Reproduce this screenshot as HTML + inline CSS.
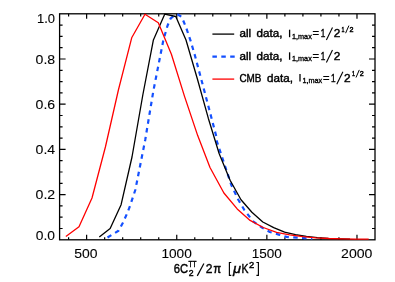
<!DOCTYPE html>
<html><head><meta charset="utf-8"><title>plot</title>
<style>
html,body{margin:0;padding:0;background:#fff;}
body{width:395px;height:282px;overflow:hidden;}
svg{display:block;will-change:transform;opacity:0.999;font-family:"Liberation Sans",sans-serif;}
text{fill:#000;stroke:#000;stroke-width:0.4px;}
.tl{stroke-width:0.1px;}
</style></head><body>
<svg width="395" height="282" viewBox="0 0 395 282">
<rect width="395" height="282" fill="#fff"/>
<rect x="59.6" y="13.8" width="315.4" height="226.0" fill="none" stroke="#000" stroke-width="1.3"/>
<path d="M68.61 239.8v-2.6M68.61 13.8v2.6M86.63 239.8v-5.0M86.63 13.8v5.0M104.66 239.8v-2.6M104.66 13.8v2.6M122.68 239.8v-2.6M122.68 13.8v2.6M140.70 239.8v-2.6M140.70 13.8v2.6M158.73 239.8v-2.6M158.73 13.8v2.6M176.75 239.8v-5.0M176.75 13.8v5.0M194.77 239.8v-2.6M194.77 13.8v2.6M212.79 239.8v-2.6M212.79 13.8v2.6M230.82 239.8v-2.6M230.82 13.8v2.6M248.84 239.8v-2.6M248.84 13.8v2.6M266.86 239.8v-5.0M266.86 13.8v5.0M284.89 239.8v-2.6M284.89 13.8v2.6M302.91 239.8v-2.6M302.91 13.8v2.6M320.93 239.8v-2.6M320.93 13.8v2.6M338.95 239.8v-2.6M338.95 13.8v2.6M356.98 239.8v-5.0M356.98 13.8v5.0M59.6 228.50h3.0M375.0 228.50h-3.0M59.6 217.20h3.0M375.0 217.20h-3.0M59.6 205.90h3.0M375.0 205.90h-3.0M59.6 194.60h6.0M375.0 194.60h-6.0M59.6 183.30h3.0M375.0 183.30h-3.0M59.6 172.00h3.0M375.0 172.00h-3.0M59.6 160.70h3.0M375.0 160.70h-3.0M59.6 149.40h6.0M375.0 149.40h-6.0M59.6 138.10h3.0M375.0 138.10h-3.0M59.6 126.80h3.0M375.0 126.80h-3.0M59.6 115.50h3.0M375.0 115.50h-3.0M59.6 104.20h6.0M375.0 104.20h-6.0M59.6 92.90h3.0M375.0 92.90h-3.0M59.6 81.60h3.0M375.0 81.60h-3.0M59.6 70.30h3.0M375.0 70.30h-3.0M59.6 59.00h6.0M375.0 59.00h-6.0M59.6 47.70h3.0M375.0 47.70h-3.0M59.6 36.40h3.0M375.0 36.40h-3.0M59.6 25.10h3.0M375.0 25.10h-3.0" fill="none" stroke="#000" stroke-width="1.2"/>
<polyline points="107.50,237.50 118.50,230.80 122.90,222.80 127.30,213.00 130.00,206.00 135.30,190.00 145.20,140.00 153.40,90.70 163.30,40.40 167.50,25.70 170.70,18.30 174.60,15.40 178.20,14.70 181.70,16.90 186.10,27.50 190.80,41.50 195.00,55.80 204.10,90.00 216.20,136.00 217.00,141.80 231.30,185.00 238.00,199.20 244.20,209.80 253.10,221.30 262.00,227.50 269.90,232.00 278.80,234.60 286.60,236.90 304.30,238.10 312.30,238.60" fill="none" stroke="#1450ff" stroke-width="2.2" stroke-dasharray="4.5 4.4" stroke-linejoin="round"/>
<polyline points="99.30,237.10 110.15,228.50 121.10,204.70 132.00,157.00 142.90,94.50 153.40,39.90 164.70,14.20 175.80,16.50 186.00,40.00 197.40,79.00 208.30,118.20 219.20,153.80 230.10,180.30 241.00,199.80 251.90,212.30 262.80,222.00 273.70,227.60 284.60,232.20 295.50,234.60 306.40,236.40 317.30,237.70 328.20,238.50 339.00,238.90 350.00,239.10" fill="none" stroke="#000" stroke-width="1.3" stroke-linejoin="round"/>
<polyline points="65.85,236.60 79.00,226.70 92.00,198.00 105.40,147.00 118.40,90.00 131.70,37.80 145.00,14.20 158.30,22.70 171.40,54.30 184.60,96.60 197.70,135.60 210.00,167.50 223.90,193.00 237.20,208.90 250.10,220.40 263.20,227.50 276.60,232.40 289.70,234.90 302.90,236.70 316.00,237.80 329.20,238.50 342.40,238.90 355.60,239.10 368.70,239.20" fill="none" stroke="#ff0000" stroke-width="1.3" stroke-linejoin="round"/>
<text x="37.0" y="22.7" font-size="13.0" text-anchor="start" textLength="18.0" lengthAdjust="spacingAndGlyphs" class="tl">1.0</text>
<text x="35.6" y="64.0" font-size="13.0" text-anchor="start" textLength="19.6" lengthAdjust="spacingAndGlyphs" class="tl">0.8</text>
<text x="35.6" y="109.1" font-size="13.0" text-anchor="start" textLength="19.6" lengthAdjust="spacingAndGlyphs" class="tl">0.6</text>
<text x="35.6" y="154.2" font-size="13.0" text-anchor="start" textLength="19.6" lengthAdjust="spacingAndGlyphs" class="tl">0.4</text>
<text x="35.6" y="199.3" font-size="13.0" text-anchor="start" textLength="19.6" lengthAdjust="spacingAndGlyphs" class="tl">0.2</text>
<text x="35.8" y="240.3" font-size="13.0" text-anchor="start" textLength="19.2" lengthAdjust="spacingAndGlyphs" class="tl">0.0</text>
<text x="74.3" y="257.6" font-size="13.0" text-anchor="start" textLength="23.3" lengthAdjust="spacingAndGlyphs" class="tl">500</text>
<text x="161.4" y="257.6" font-size="13.0" text-anchor="start" textLength="30.4" lengthAdjust="spacingAndGlyphs" class="tl">1000</text>
<text x="251.8" y="257.6" font-size="13.0" text-anchor="start" textLength="30.1" lengthAdjust="spacingAndGlyphs" class="tl">1500</text>
<text x="341.1" y="257.6" font-size="13.0" text-anchor="start" textLength="31.3" lengthAdjust="spacingAndGlyphs" class="tl">2000</text>
<text x="173.7" y="273.1" font-size="13.0" text-anchor="start" textLength="14.4" lengthAdjust="spacingAndGlyphs">6C</text>
<text x="188.5" y="266.5" font-size="8.6" text-anchor="start" textLength="7.9" lengthAdjust="spacingAndGlyphs" style="stroke-width:0.45px">TT</text>
<text x="188.7" y="275.8" font-size="8.6" text-anchor="start" textLength="4.8" lengthAdjust="spacingAndGlyphs" style="stroke-width:0.45px">2</text>
<path d="M197.3 275.9L203.9 263.5" stroke="#000" stroke-width="1.2" fill="none"/>
<text x="205.8" y="273.1" font-size="13.0" text-anchor="start" textLength="6.7" lengthAdjust="spacingAndGlyphs">2</text>
<text x="213.5" y="273.1" font-size="13.0" text-anchor="start" textLength="7.5" lengthAdjust="spacingAndGlyphs" style="stroke-width:0.6px">π</text>
<path d="M231.3 262.5H229.4V275.4H231.3" stroke="#000" stroke-width="1.15" fill="none"/>
<text x="232.9" y="273.1" font-size="13.0" text-anchor="start" textLength="8.0" lengthAdjust="spacingAndGlyphs" font-style="italic">μ</text>
<text x="241.4" y="273.1" font-size="13.0" text-anchor="start" textLength="7.0" lengthAdjust="spacingAndGlyphs">K</text>
<text x="249.0" y="267.6" font-size="8.6" text-anchor="start" textLength="5.2" lengthAdjust="spacingAndGlyphs" style="stroke-width:0.45px">2</text>
<path d="M256.4 262.5H258.4V275.4H256.4" stroke="#000" stroke-width="1.15" fill="none"/>
<path d="M212.4 34.1H234.2" stroke="#000" stroke-width="1.3"/>
<text x="239.4" y="37.2" font-size="10.6" text-anchor="start" textLength="11.7" lengthAdjust="spacingAndGlyphs">all</text>
<text x="256.6" y="37.2" font-size="10.6" text-anchor="start" textLength="25.9" lengthAdjust="spacingAndGlyphs">data,</text>
<path d="M289.6 37.2v-7.5" stroke="#000" stroke-width="1.3" fill="none"/>
<text x="292.0" y="38.800000000000004" font-size="7.6" text-anchor="start" textLength="19.8" lengthAdjust="spacingAndGlyphs" style="stroke-width:0.35px">1,max</text>
<text x="312.5" y="37.2" font-size="10.6" text-anchor="start" textLength="6.5" lengthAdjust="spacingAndGlyphs">=</text>
<text x="320.7" y="37.2" font-size="10.6" text-anchor="start" textLength="4.6" lengthAdjust="spacingAndGlyphs">1</text>
<path d="M326.4 39.9L332.5 27.5" stroke="#000" stroke-width="1.1" fill="none"/>
<text x="333.7" y="37.2" font-size="10.6" text-anchor="start" textLength="6.6" lengthAdjust="spacingAndGlyphs">2</text>
<text x="341.5" y="32.0" font-size="7.8" text-anchor="start" textLength="3.0" lengthAdjust="spacingAndGlyphs" style="stroke-width:0.5px">1</text>
<path d="M345.6 33.2L348.9 25.6" stroke="#000" stroke-width="1.0" fill="none"/>
<text x="349.4" y="32.0" font-size="7.8" text-anchor="start" textLength="4.0" lengthAdjust="spacingAndGlyphs" style="stroke-width:0.5px">2</text>
<path d="M212.4 56.7H234.9" stroke="#1450ff" stroke-width="2.2" stroke-dasharray="4.5 4.4"/>
<text x="239.4" y="59.8" font-size="10.6" text-anchor="start" textLength="11.7" lengthAdjust="spacingAndGlyphs">all</text>
<text x="256.6" y="59.8" font-size="10.6" text-anchor="start" textLength="25.9" lengthAdjust="spacingAndGlyphs">data,</text>
<path d="M289.6 59.8v-7.5" stroke="#000" stroke-width="1.3" fill="none"/>
<text x="292.0" y="61.4" font-size="7.6" text-anchor="start" textLength="19.8" lengthAdjust="spacingAndGlyphs" style="stroke-width:0.35px">1,max</text>
<text x="312.5" y="59.8" font-size="10.6" text-anchor="start" textLength="6.5" lengthAdjust="spacingAndGlyphs">=</text>
<text x="320.7" y="59.8" font-size="10.6" text-anchor="start" textLength="4.6" lengthAdjust="spacingAndGlyphs">1</text>
<path d="M326.4 62.5L332.5 50.1" stroke="#000" stroke-width="1.1" fill="none"/>
<text x="333.7" y="59.8" font-size="10.6" text-anchor="start" textLength="6.6" lengthAdjust="spacingAndGlyphs">2</text>
<path d="M212.4 79.1H234.2" stroke="#ff0000" stroke-width="1.3"/>
<text x="239.4" y="81.5" font-size="10.6" text-anchor="start" textLength="22.0" lengthAdjust="spacingAndGlyphs">CMB</text>
<text x="267.0" y="81.5" font-size="10.6" text-anchor="start" textLength="25.9" lengthAdjust="spacingAndGlyphs">data,</text>
<path d="M300.0 81.5v-7.5" stroke="#000" stroke-width="1.3" fill="none"/>
<text x="302.4" y="83.1" font-size="7.6" text-anchor="start" textLength="19.8" lengthAdjust="spacingAndGlyphs" style="stroke-width:0.35px">1,max</text>
<text x="322.9" y="81.5" font-size="10.6" text-anchor="start" textLength="6.5" lengthAdjust="spacingAndGlyphs">=</text>
<text x="331.09999999999997" y="81.5" font-size="10.6" text-anchor="start" textLength="4.6" lengthAdjust="spacingAndGlyphs">1</text>
<path d="M336.8 84.2L342.9 71.8" stroke="#000" stroke-width="1.1" fill="none"/>
<text x="344.09999999999997" y="81.5" font-size="10.6" text-anchor="start" textLength="6.6" lengthAdjust="spacingAndGlyphs">2</text>
<text x="351.9" y="76.3" font-size="7.8" text-anchor="start" textLength="3.0" lengthAdjust="spacingAndGlyphs" style="stroke-width:0.5px">1</text>
<path d="M356.0 77.5L359.3 69.9" stroke="#000" stroke-width="1.0" fill="none"/>
<text x="359.79999999999995" y="76.3" font-size="7.8" text-anchor="start" textLength="4.0" lengthAdjust="spacingAndGlyphs" style="stroke-width:0.5px">2</text>
</svg>
</body></html>
